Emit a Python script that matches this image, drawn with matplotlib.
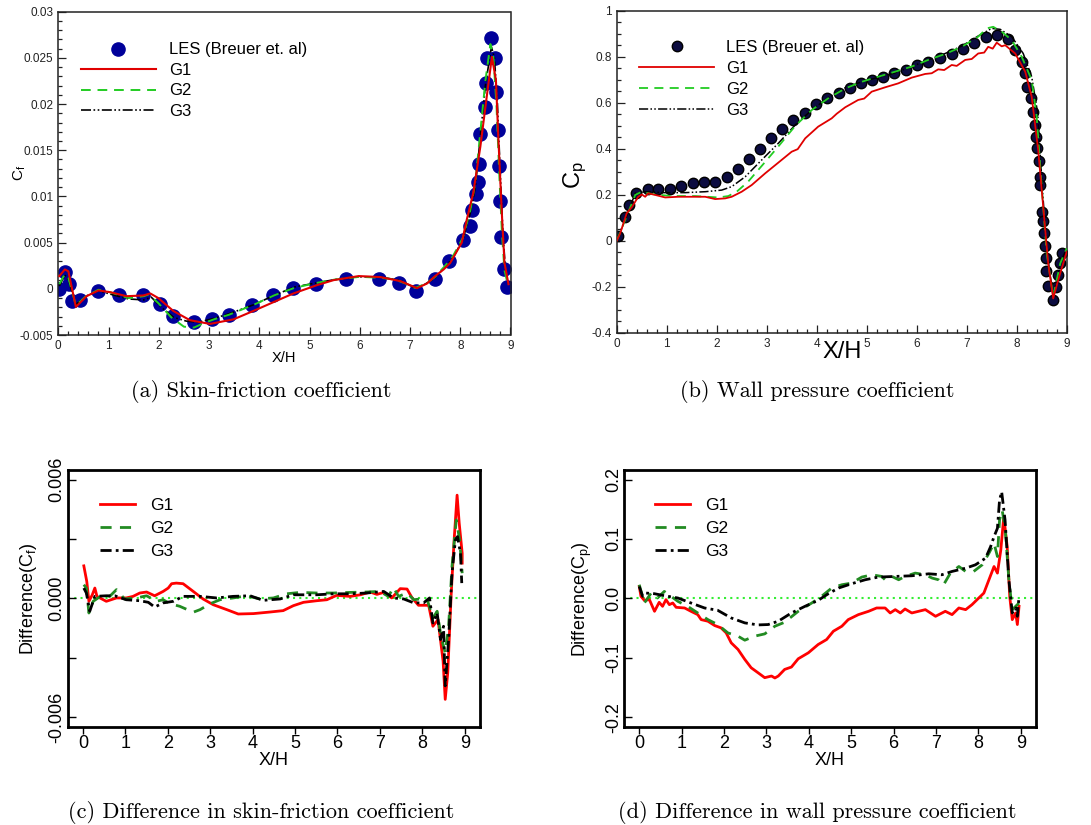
import matplotlib
matplotlib.use("Agg")
import matplotlib.pyplot as plt
from matplotlib.ticker import MultipleLocator, FuncFormatter, FixedLocator

plt.rcParams["font.family"] = ["Liberation Sans", "DejaVu Sans"]
plt.rcParams["mathtext.default"] = "regular"
plt.rcParams["axes.unicode_minus"] = False

# ---------------- (a) skin friction ----------------
les_cf_x = [0.02, 0.13, 0.22, 0.27, 0.43, 0.80, 1.20, 1.68, 2.03, 2.28, 2.70, 3.06, 3.39, 3.86,
            4.27, 4.68, 5.13, 5.73, 6.39, 6.78, 7.11, 7.50, 7.78, 8.05, 8.20, 8.23, 8.32, 8.36,
            8.38, 8.40, 8.49, 8.52, 8.53, 8.61, 8.69, 8.72, 8.75, 8.77, 8.79, 8.81, 8.88, 8.93]
les_cf_y = [0.0, 0.00185, 0.00054, -0.00134, -0.00116, -0.00025, -0.00072, -0.00072, -0.0016,
            -0.0029, -0.0036, -0.0033, -0.0028, -0.0018, -0.0007, 0.0001, 0.0005, 0.0011, 0.0011,
            0.0006, -0.0002, 0.0011, 0.003, 0.0053, 0.0068, 0.0085, 0.0103, 0.0116, 0.0135,
            0.0168, 0.0197, 0.0223, 0.0250, 0.0271, 0.0250, 0.0213, 0.0172, 0.0133, 0.0095,
            0.0056, 0.0021, 0.0002]

g1_cf_x = [0.02, 0.13, 0.20, 0.35, 0.56, 0.80, 1.03, 1.36, 1.69, 1.83, 1.99, 2.29, 2.62, 3.02,
           3.49, 3.88, 4.28, 4.68, 5.15, 5.48, 5.98, 6.41, 6.81, 7.14, 7.34, 7.50, 7.67, 7.80,
           8.03, 8.13, 8.26, 8.40, 8.52, 8.63, 8.71, 8.76, 8.83, 8.88, 8.96]
g1_cf_y = [0.00138, 0.0021, 0.0019, -0.00196, -0.0008, -0.00018, -0.00036, -0.0008, -0.00072,
           -0.0005, -0.001, -0.0024, -0.0034, -0.0038, -0.0033, -0.0024, -0.00145, -0.0005,
           0.0004, 0.00094, 0.00138, 0.00127, 0.00083, 0.00007, 0.00058, 0.00138, 0.0021,
           0.0028, 0.005, 0.0075, 0.0104, 0.0154, 0.0205, 0.0251, 0.0226, 0.0161, 0.0079,
           0.0028, 0.0005]

g2_cf_x = [0.02, 0.13, 0.20, 0.35, 0.55, 0.80, 1.05, 1.40, 1.70, 1.80, 2.00, 2.25, 2.50, 2.70,
           2.90, 3.10, 3.40, 3.90, 4.30, 4.70, 5.10, 5.50, 6.00, 6.40, 6.70, 6.90, 7.10, 7.30,
           7.50, 7.70, 7.85, 8.05, 8.20, 8.30, 8.40, 8.50, 8.60, 8.66, 8.72, 8.78, 8.83, 8.88,
           8.95]
g2_cf_y = [0.0005, 0.0016, 0.0012, -0.0018, -0.0008, -0.0001, -0.0004, -0.001, -0.0008, -0.0006,
           -0.0016, -0.0031, -0.0041, -0.0042, -0.0037, -0.0033, -0.0028, -0.0017, -0.0007,
           0.0001, 0.0006, 0.0010, 0.0013, 0.0012, 0.0010, 0.0006, 0.0001, 0.0005, 0.0013,
           0.0025, 0.0035, 0.0055, 0.0085, 0.0115, 0.017, 0.0225, 0.0265, 0.025, 0.020, 0.012,
           0.006, 0.002, 0.0004]

g3_cf_x = [0.02, 0.13, 0.20, 0.35, 0.55, 0.80, 1.05, 1.40, 1.70, 1.85, 2.05, 2.30, 2.55, 2.80,
           3.10, 3.40, 3.90, 4.30, 4.70, 5.10, 5.50, 6.00, 6.40, 6.80, 7.10, 7.30, 7.50, 7.70,
           7.85, 8.05, 8.20, 8.30, 8.40, 8.50, 8.62, 8.68, 8.74, 8.80, 8.85, 8.90, 8.96]
g3_cf_y = [0.0003, 0.0015, 0.001, -0.0017, -0.0008, -0.0002, -0.0006, -0.0011, -0.0012,
           -0.0009, -0.0020, -0.0031, -0.0035, -0.0036, -0.0032, -0.0027, -0.0017, -0.0007,
           0.0002, 0.0006, 0.0010, 0.0013, 0.0013, 0.0009, 0.0001, 0.0005, 0.0012, 0.0024,
           0.0033, 0.0053, 0.0082, 0.011, 0.0165, 0.022, 0.0262, 0.025, 0.020, 0.012, 0.006,
           0.002, 0.0004]

# ---------------- (b) wall pressure ----------------
les_cp_x = [0.03, 0.17, 0.25, 0.38, 0.62, 0.83, 1.06, 1.29, 1.52, 1.75, 1.97, 2.20, 2.42, 2.65,
            2.87, 3.09, 3.31, 3.53, 3.77, 3.99, 4.21, 4.44, 4.66, 4.89, 5.11, 5.33, 5.55, 5.79,
            6.01, 6.23, 6.47, 6.70, 6.92, 7.15, 7.38, 7.60, 7.82, 7.96, 8.11, 8.17, 8.21, 8.29,
            8.33, 8.37, 8.39, 8.41, 8.45, 8.47, 8.47, 8.51, 8.53, 8.55, 8.56, 8.58, 8.59, 8.63,
            8.73, 8.78, 8.83, 8.87, 8.91]
les_cp_y = [0.02, 0.104, 0.155, 0.206, 0.225, 0.225, 0.225, 0.238, 0.249, 0.255, 0.257, 0.275,
            0.31, 0.354, 0.399, 0.445, 0.487, 0.525, 0.557, 0.593, 0.622, 0.642, 0.665, 0.684,
            0.699, 0.713, 0.730, 0.742, 0.762, 0.777, 0.793, 0.812, 0.835, 0.861, 0.884, 0.894,
            0.875, 0.829, 0.778, 0.730, 0.667, 0.619, 0.561, 0.503, 0.452, 0.401, 0.348, 0.278,
            0.242, 0.126, 0.087, 0.032, -0.023, -0.077, -0.130, -0.197, -0.258, -0.200, -0.149,
            -0.099, -0.055]

g1_cp_x = [0.0, 0.07, 0.20, 0.31, 0.43, 0.50, 0.57, 0.63, 0.77, 0.97, 1.23, 1.50, 1.77, 1.97,
           2.17, 2.30, 2.50, 2.70, 2.97, 3.23, 3.50, 3.62, 3.77, 4.03, 4.30, 4.40, 4.57, 4.83,
           4.95, 5.10, 5.37, 5.63, 5.90, 6.17, 6.30, 6.43, 6.55, 6.70, 6.80, 6.97, 7.10, 7.23,
           7.35, 7.43, 7.52, 7.60, 7.70, 7.77, 7.97, 8.17, 8.30, 8.43, 8.53, 8.63, 8.73, 8.83,
           8.93, 9.0]
g1_cp_y = [0.0, 0.032, 0.119, 0.148, 0.191, 0.201, 0.191, 0.206, 0.199, 0.188, 0.191, 0.191,
           0.191, 0.181, 0.184, 0.191, 0.213, 0.242, 0.293, 0.339, 0.387, 0.398, 0.445, 0.496,
           0.532, 0.552, 0.580, 0.612, 0.618, 0.648, 0.667, 0.684, 0.709, 0.725, 0.728, 0.745,
           0.742, 0.764, 0.760, 0.786, 0.790, 0.814, 0.818, 0.843, 0.835, 0.861, 0.845, 0.850,
           0.814, 0.735, 0.626, 0.394, 0.148, -0.099, -0.251, -0.171, -0.099, -0.048]

g2_cp_x = [0.0, 0.17, 0.37, 0.50, 0.70, 1.10, 1.57, 2.03, 2.23, 2.40, 2.63, 2.90, 3.23, 3.57,
           3.90, 4.23, 4.57, 4.90, 5.23, 5.57, 5.90, 6.23, 6.57, 6.90, 7.23, 7.40, 7.53, 7.70,
           7.90, 8.10, 8.30, 8.40, 8.50, 8.60, 8.73, 8.87, 9.0]
g2_cp_y = [0.0, 0.09, 0.199, 0.213, 0.203, 0.194, 0.194, 0.188, 0.194, 0.213, 0.257, 0.325,
           0.409, 0.499, 0.568, 0.619, 0.662, 0.691, 0.713, 0.735, 0.757, 0.786, 0.812, 0.843,
           0.887, 0.923, 0.930, 0.909, 0.872, 0.800, 0.699, 0.539, 0.235, -0.055, -0.243,
           -0.099, -0.033]

g3_cp_x = [0.0, 0.17, 0.37, 0.57, 0.90, 1.37, 1.77, 2.10, 2.30, 2.57, 2.90, 3.23, 3.57, 3.90,
           4.23, 4.57, 4.90, 5.23, 5.57, 5.90, 6.23, 6.57, 6.90, 7.23, 7.50, 7.67, 7.90, 8.13,
           8.30, 8.42, 8.51, 8.61, 8.73, 8.87, 9.0]
g3_cp_y = [0.003, 0.09, 0.206, 0.213, 0.209, 0.209, 0.213, 0.220, 0.235, 0.278, 0.351, 0.423,
           0.503, 0.568, 0.622, 0.665, 0.691, 0.710, 0.730, 0.757, 0.786, 0.814, 0.846, 0.890,
           0.923, 0.919, 0.887, 0.814, 0.713, 0.554, 0.235, -0.055, -0.243, -0.099, -0.033]

# ---------------- (c) difference in Cf ----------------
d1_cf_x = [0.02, 0.09, 0.14, 0.22, 0.28, 0.33, 0.55, 0.79, 1.02, 1.18, 1.34, 1.50, 1.69, 1.89,
           2.01, 2.09, 2.20, 2.36, 2.60, 2.83, 3.07, 3.39, 3.66, 4.02, 4.41, 4.72, 4.96, 5.20,
           5.51, 5.75, 5.98, 6.30, 6.54, 6.77, 6.93, 7.09, 7.28, 7.48, 7.64, 7.76, 7.91, 8.15,
           8.25, 8.37, 8.49, 8.54, 8.60, 8.68, 8.75, 8.82, 8.87, 8.94, 8.94]
d1_cf_y = [0.00164, 0.00085, -0.00015, 0.00018, 0.00052, 0.0001, -0.00015, 0.00002, 0.00002,
           0.0001, 0.00027, 0.00032, 0.00013, 0.00035, 0.00052, 0.00074, 0.00077, 0.00074,
           0.00035, -0.00003, -0.00032, -0.00057, -0.00079, -0.00077, -0.00069, -0.00062,
           -0.00037, -0.0002, -0.00012, -0.00007, 0.00015, 0.0001, 0.00018, 0.00032, 0.0002,
           0.0003, 0.00002, 0.00049, 0.00047, 0.00002, -0.00035, -0.00035, -0.00141, -0.00107,
           -0.00317, -0.0051, -0.00375, 0.00018, 0.00295, 0.00521, 0.00379, 0.00228, 0.00178]

d2_cf_x = [0.02, 0.08, 0.14, 0.24, 0.39, 0.63, 0.79, 0.98, 1.26, 1.50, 1.73, 1.89, 2.05, 2.28,
           2.60, 2.76, 2.99, 3.23, 3.54, 3.86, 4.17, 4.49, 4.80, 5.12, 5.51, 5.91, 6.30, 6.69,
           7.00, 7.20, 7.32, 7.44, 7.64, 7.80, 7.95, 8.11, 8.25, 8.35, 8.44, 8.54, 8.62, 8.70,
           8.80, 8.88, 8.94]
d2_cf_y = [0.00069, 0.00052, -0.00074, -0.00015, 0.00007, 0.0001, 0.00044, -0.00003, 0.00002,
           0.00013, -0.00015, -0.00007, -0.00027, -0.0004, -0.0007, -0.00057, -0.00028,
           -0.00007, 0.00002, 0.00013, -0.00003, 0.00002, 0.00023, 0.0003, 0.00027, 0.00027,
           0.0003, 0.00032, 0.00035, 0.0001, 0.00055, 0.0001, 0.00027, -0.00007, -0.00003,
           -0.00003, -0.00099, -0.00065, -0.00191, -0.00275, -0.00141, 0.00161, 0.00396,
           0.00295, 0.00127]

d3_cf_x = [0.02, 0.08, 0.16, 0.28, 0.55, 0.75, 1.02, 1.34, 1.54, 1.69, 1.89, 2.13, 2.36, 2.76,
           3.15, 3.54, 3.94, 4.25, 4.65, 4.96, 5.51, 5.91, 6.30, 6.69, 7.09, 7.32, 7.56, 7.80,
           8.03, 8.17, 8.25, 8.35, 8.43, 8.50, 8.54, 8.62, 8.70, 8.78, 8.83, 8.90, 8.93]
d3_cf_y = [0.00052, 0.00027, -0.00065, 0.0001, 0.00013, 0.00013, -0.00007, -0.00012, -0.0002,
           -0.00044, -0.00023, -0.00015, 0.0001, 0.0001, 0.00002, 0.0001, 0.00013, -0.0001,
           -0.00003, 0.00018, 0.00018, 0.00023, 0.00023, 0.00027, 0.00035, 0.00002, -0.00003,
           -0.00023, -0.00023, 0.00002, -0.00124, -0.00074, -0.00208, -0.00141, -0.00442,
           -0.00208, 0.00127, 0.00295, 0.00312, 0.00228, 0.00077]

# ---------------- (d) difference in Cp ----------------
d1_cp_x = [0.0, 0.04, 0.12, 0.24, 0.36, 0.47, 0.55, 0.63, 0.71, 0.79, 0.87, 1.07, 1.22, 1.38,
           1.46, 1.62, 1.78, 1.93, 2.05, 2.17, 2.33, 2.49, 2.64, 2.80, 2.96, 3.12, 3.20, 3.28,
           3.43, 3.59, 3.75, 3.99, 4.22, 4.42, 4.58, 4.78, 4.93, 5.17, 5.41, 5.60, 5.80, 5.92,
           6.04, 6.16, 6.27, 6.43, 6.59, 6.75, 6.99, 7.22, 7.38, 7.54, 7.70, 7.85, 8.01, 8.13,
           8.25, 8.37, 8.45, 8.53, 8.60, 8.68, 8.74, 8.80, 8.88, 8.92, 8.96]
d1_cp_y = [0.02, 0.0034, -0.0034, -0.0022, -0.0218, -0.0067, -0.0134, -0.0022, -0.0106,
           -0.0078, -0.0151, -0.0162, -0.0218, -0.0274, -0.0358, -0.0385, -0.0458, -0.0497,
           -0.0581, -0.0749, -0.086, -0.1028, -0.1168, -0.1251, -0.1335, -0.1307, -0.1340,
           -0.1307, -0.1196, -0.1156, -0.1017, -0.0916, -0.0777, -0.0693, -0.0553, -0.0469,
           -0.0358, -0.0274, -0.0218, -0.0162, -0.0162, -0.0246, -0.019, -0.0246, -0.0179,
           -0.0246, -0.0218, -0.019, -0.0302, -0.0218, -0.0274, -0.0162, -0.019, -0.0106,
           0.0006, 0.0089, 0.0313, 0.0536, 0.0425, 0.0816, 0.1374, 0.0872, 0.0034, -0.0358,
           -0.0246, -0.0441, -0.0134]

d2_cp_x = [0.0, 0.12, 0.28, 0.43, 0.59, 0.75, 0.91, 1.14, 1.38, 1.62, 1.85, 2.09, 2.33, 2.49,
           2.72, 2.96, 3.20, 3.43, 3.75, 4.07, 4.30, 4.54, 4.78, 5.01, 5.25, 5.49, 5.72, 5.80,
           5.96, 6.12, 6.27, 6.51, 6.75, 6.91, 7.06, 7.18, 7.34, 7.54, 7.70, 7.89, 8.09, 8.25,
           8.37, 8.45, 8.50, 8.56, 8.63, 8.72, 8.80, 8.88, 8.96]
d2_cp_y = [0.0229, -0.0078, 0.0089, 0.0006, 0.0117, 0.0034, -0.005, -0.0134, -0.0246, -0.0358,
           -0.0441, -0.0581, -0.0637, -0.0704, -0.0637, -0.0598, -0.0469, -0.0402, -0.0218,
           -0.0078, 0.0034, 0.0173, 0.0229, 0.0257, 0.0358, 0.0397, 0.0369, 0.0313, 0.0369,
           0.0313, 0.0369, 0.0425, 0.0397, 0.0341, 0.0313, 0.0229, 0.0425, 0.0536, 0.0453,
           0.0453, 0.0564, 0.076, 0.0927, 0.0704, 0.1318, 0.1486, 0.1207, 0.0313, -0.019,
           -0.0134, -0.0078]

d3_cp_x = [0.0, 0.08, 0.16, 0.36, 0.59, 0.91, 1.22, 1.54, 1.85, 2.17, 2.49, 2.80, 3.04, 3.28,
           3.59, 3.91, 4.22, 4.46, 4.70, 5.01, 5.33, 5.64, 6.04, 6.43, 6.83, 7.14, 7.38, 7.70,
           7.93, 8.17, 8.29, 8.37, 8.45, 8.50, 8.55, 8.63, 8.72, 8.80, 8.88, 8.92, 8.96]
d3_cp_y = [0.02, 0.0034, 0.0089, 0.0078, 0.0045, 0.0006, -0.0078, -0.0162, -0.0201, -0.033,
           -0.0413, -0.0447, -0.0441, -0.0385, -0.0246, -0.0134, -0.0034, 0.0078, 0.0173,
           0.0246, 0.0313, 0.0358, 0.0369, 0.038, 0.0413, 0.0397, 0.0453, 0.0508, 0.0564,
           0.0676, 0.0872, 0.1039, 0.1179, 0.1654, 0.1793, 0.1318, 0.0313, -0.0246, -0.0162,
           -0.0302, 0.0034]

xticks = list(range(10))

W, H = 1091, 825
fig = plt.figure(figsize=(W / 100, H / 100), dpi=100)


def px_axes(l, t, r, b):
    return fig.add_axes([l / W, 1 - b / H, (r - l) / W, (b - t) / H])


def style_top(ax):
    for s in ax.spines.values():
        s.set_linewidth(1.1)
        s.set_color("#222")
    ax.tick_params(which="both", direction="in", top=False, right=False, labelsize=8.5,
                   width=0.9, colors="#222")
    ax.tick_params(which="major", length=6)
    ax.tick_params(which="minor", length=3)
    ax.set_xticks(xticks)
    ax.xaxis.set_minor_locator(MultipleLocator(0.2))
    ax.yaxis.set_major_formatter(FuncFormatter(lambda v, p: "%g" % round(v, 6)))
    ax.set_xlim(0, 9)


def style_bottom(ax):
    for s in ax.spines.values():
        s.set_linewidth(2.0)
    ax.tick_params(axis="x", direction="out", length=5, width=1, labelsize=13, pad=1)
    ax.tick_params(axis="y", direction="in", length=6, width=1, labelsize=13, pad=1.5,
                   labelrotation=90)
    for lab in ax.get_yticklabels():
        lab.set_va("center")
    ax.set_xticks(xticks)
    ax.set_xlim(-0.36, 9.36)
    ax.axhline(0, color="#33ee33", lw=1.5, ls=(0, (1, 2)), zorder=1)


# ---- (a)
ax = px_axes(58.3, 11.7, 510.5, 335)
style_top(ax)
ax.plot(les_cf_x, les_cf_y, "o", color="#00009a", ms=9.5, mec="#00009a", ls="none",
        label="LES (Breuer et. al)", zorder=2)
ax.plot(g1_cf_x, g1_cf_y, color="#e00000", lw=1.5, label="G1", zorder=5)
ax.plot(g2_cf_x, g2_cf_y, color="#22cc22", lw=1.4, dashes=(5, 3.5), label="G2", zorder=4)
ax.plot(g3_cf_x, g3_cf_y, color="black", lw=1.2, dashes=(6, 1.5, 1, 1.5, 1, 1.5), label="G3",
        zorder=3)
ax.set_ylim(-0.005, 0.03)
ax.set_yticks([-0.005, 0, 0.005, 0.01, 0.015, 0.02, 0.025, 0.03])
ax.yaxis.set_minor_locator(MultipleLocator(0.001))
ax.set_xlabel("X/H", fontsize=10.5)
ax.xaxis.set_label_coords(0.5, -0.05)
ax.set_ylabel("C$_f$", fontsize=11, va="center")
ax.yaxis.set_label_coords(-0.085, 0.5)
ax.legend(loc="upper left", bbox_to_anchor=(0.05, 0.905), frameon=False, fontsize=12,
          borderpad=0, handlelength=4.5, handletextpad=0.8, labelspacing=0.33, numpoints=1,
          borderaxespad=0)

# ---- (b)
ax = px_axes(616.7, 10.7, 1066.7, 332.7)
style_top(ax)
ax.plot(les_cp_x, les_cp_y, "o", color="#0c0c40", ms=7.5, mec="black", ls="none",
        label="LES (Breuer et. al)", zorder=2)
ax.plot(g1_cp_x, g1_cp_y, color="#e00000", lw=1.3, label="G1", zorder=5)
ax.plot(g2_cp_x, g2_cp_y, color="#22cc22", lw=1.3, dashes=(5, 3.5), label="G2", zorder=4)
ax.plot(g3_cp_x, g3_cp_y, color="black", lw=1.1, dashes=(6, 1.5, 1, 1.5, 1, 1.5), label="G3",
        zorder=3)
ax.set_ylim(-0.4, 1.0)
ax.set_yticks([-0.4, -0.2, 0, 0.2, 0.4, 0.6, 0.8, 1.0])
ax.yaxis.set_minor_locator(MultipleLocator(0.05))
ax.set_xlabel("X/H", fontsize=17)
ax.xaxis.set_label_coords(0.5, -0.027)
ax.set_ylabel("C$_p$", fontsize=17, va="center")
ax.yaxis.set_label_coords(-0.093, 0.49)
ax.legend(loc="upper left", bbox_to_anchor=(0.05, 0.909), frameon=False, fontsize=12,
          borderpad=0, handlelength=4.5, handletextpad=0.7, labelspacing=0.35, numpoints=1,
          borderaxespad=0)

# ---- (c)
ax = px_axes(67.7, 470, 480, 726.7)
ax.plot(d1_cf_x, d1_cf_y, color="#ff0000", lw=2.0, label="G1", zorder=3)
ax.plot(d2_cf_x, d2_cf_y, color="#228b22", lw=2.0, dashes=(4, 3), label="G2", zorder=4)
ax.plot(d3_cf_x, d3_cf_y, color="black", lw=2.0, dashes=(4, 1.5, 1, 1.5), label="G3", zorder=5)
ax.set_ylim(-0.00648, 0.00648)
ax.yaxis.set_major_locator(FixedLocator([-0.006, -0.003, 0.0, 0.003, 0.006]))
ax.yaxis.set_major_formatter(FuncFormatter(
    lambda v, p: "" if abs(abs(v) - 0.003) < 1e-6 else ("%.3f" % v).replace("-0.000", "0.000")))
style_bottom(ax)
ax.set_xlabel("X/H", fontsize=13)
ax.xaxis.set_label_coords(0.5, -0.098)
ax.set_ylabel("Difference(C$_f$)", fontsize=13, va="center")
ax.yaxis.set_label_coords(-0.096, 0.497)
ax.legend(loc="upper left", bbox_to_anchor=(0.078, 0.89), frameon=False, fontsize=12.5,
          borderpad=0, handlelength=2.0, handletextpad=0.9, labelspacing=0.44,
          borderaxespad=0)

# ---- (d)
ax = px_axes(624, 470, 1036, 726.7)
ax.plot(d1_cp_x, d1_cp_y, color="#ff0000", lw=2.0, label="G1", zorder=3)
ax.plot(d2_cp_x, d2_cp_y, color="#228b22", lw=2.0, dashes=(4, 3), label="G2", zorder=4)
ax.plot(d3_cp_x, d3_cp_y, color="black", lw=2.0, dashes=(4, 1.5, 1, 1.5), label="G3", zorder=5)
ax.set_ylim(-0.216, 0.216)
ax.yaxis.set_major_locator(FixedLocator([-0.2, -0.1, 0.0, 0.1, 0.2]))
ax.yaxis.set_major_formatter(FuncFormatter(
    lambda v, p: ("%.1f" % v).replace("-0.0", "0.0")))
style_bottom(ax)
ax.set_xlabel("X/H", fontsize=13)
ax.xaxis.set_label_coords(0.5, -0.1)
ax.set_ylabel("Difference(C$_p$)", fontsize=13, va="center")
ax.yaxis.set_label_coords(-0.100, 0.497)
ax.legend(loc="upper left", bbox_to_anchor=(0.075, 0.89), frameon=False, fontsize=12.5,
          borderpad=0, handlelength=2.0, handletextpad=0.9, labelspacing=0.44,
          borderaxespad=0)

# captions
cap = dict(fontsize=16, fontname="cmr10", ha="center", va="center")
fig.text(261 / W, 1 - 392 / H, "(a) Skin-friction coefficient", **cap)
fig.text(817 / W, 1 - 392 / H, "(b) Wall pressure coefficient", **cap)
fig.text(261 / W, 1 - 812 / H, "(c) Difference in skin-friction coefficient", **cap)
fig.text(817 / W, 1 - 812 / H, "(d) Difference in wall pressure coefficient", **cap)

fig.savefig("out.png", dpi=100)
